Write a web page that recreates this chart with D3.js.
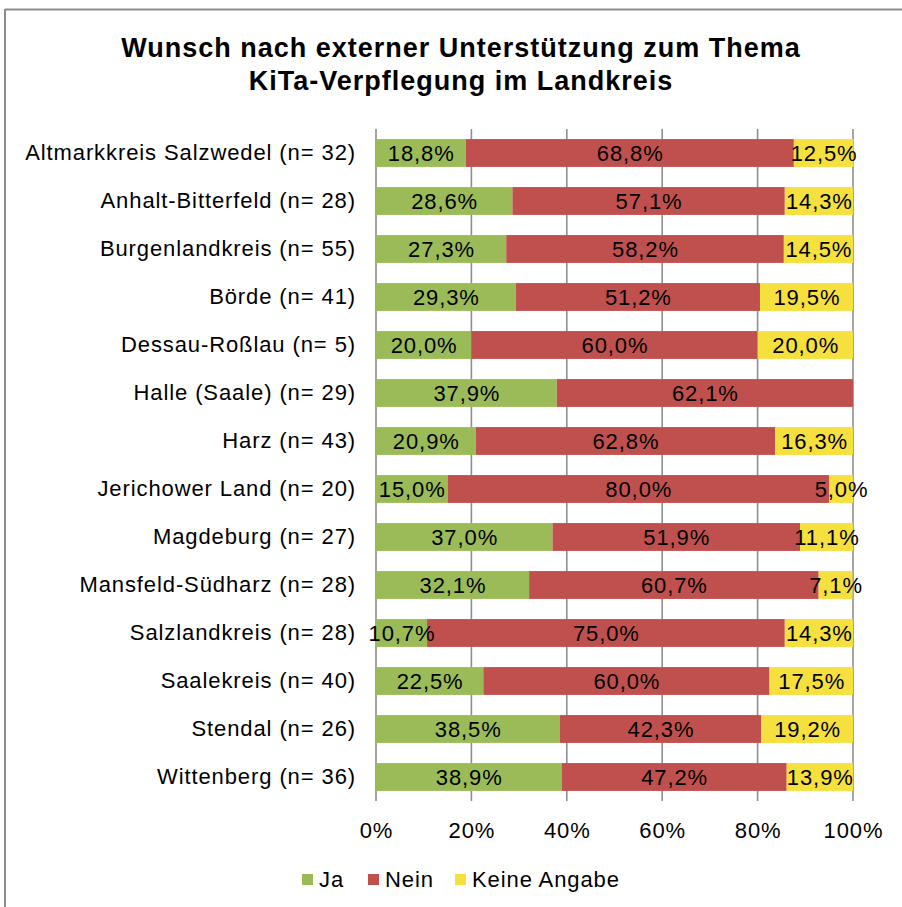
<!DOCTYPE html>
<html>
<head>
<meta charset="utf-8">
<script src="https://cdn.jsdelivr.net/npm/d3@7"></script>
<style>
  html, body { margin: 0; padding: 0; background: #fff; }
  svg { display: block; font-family: "Liberation Sans", Arial, sans-serif; }
</style>
</head>
<body>
<svg id="chart" width="902" height="907"></svg>
<script>
// Districts (top to bottom) and their answer shares in percent
const categories = [
  "Altmarkkreis Salzwedel (n= 32)",
  "Anhalt-Bitterfeld (n= 28)",
  "Burgenlandkreis (n= 55)",
  "Börde (n= 41)",
  "Dessau-Roßlau (n= 5)",
  "Halle (Saale) (n= 29)",
  "Harz (n= 43)",
  "Jerichower Land (n= 20)",
  "Magdeburg (n= 27)",
  "Mansfeld-Südharz (n= 28)",
  "Salzlandkreis (n= 28)",
  "Saalekreis (n= 40)",
  "Stendal (n= 26)",
  "Wittenberg (n= 36)"
];
const ja           = [18.8, 28.6, 27.3, 29.3, 20.0, 37.9, 20.9, 15.0, 37.0, 32.1, 10.7, 22.5, 38.5, 38.9];
const nein         = [68.8, 57.1, 58.2, 51.2, 60.0, 62.1, 62.8, 80.0, 51.9, 60.7, 75.0, 60.0, 42.3, 47.2];
const keineAngabe  = [12.5, 14.3, 14.5, 19.5, 20.0,  0.0, 16.3,  5.0, 11.1,  7.1, 14.3, 17.5, 19.2, 13.9];
const seriesNames  = ["Ja", "Nein", "Keine Angabe"];
const seriesColors = ["#9BBB59", "#C0504D", "#F6E03E"];
const xTicks       = [0, 20, 40, 60, 80, 100];
const titleLines   = ["Wunsch nach externer Unterstützung zum Thema", "KiTa-Verpflegung im Landkreis"];

const svg = d3.select("#chart");
const W = 902, H = 907;
const FS = 22, LS = 0.9;   // body text size and tracking

// outer frame (top and left edges)
svg.append("line").attr("x1", 5).attr("x2", W).attr("y1", 9.5).attr("y2", 9.5)
  .attr("stroke", "#8c8c8c").attr("stroke-width", 2);
svg.append("line").attr("x1", 5).attr("x2", 5).attr("y1", 9).attr("y2", H)
  .attr("stroke", "#8c8c8c").attr("stroke-width", 2);

// title
svg.append("g").selectAll("text").data(titleLines).join("text")
  .attr("x", 461).attr("y", (d, i) => 57 + i * 33)
  .attr("text-anchor", "middle")
  .attr("font-size", 27).attr("font-weight", "bold")
  .attr("letter-spacing", 1.0)
  .attr("fill", "#000")
  .text(d => d);

const plot = { left: 376, right: 853, top: 129, bottom: 801 };

const x = d3.scaleLinear().domain([0, 100]).range([plot.left, plot.right]);
const y = d3.scaleBand().domain(categories).range([plot.top, plot.bottom]).paddingInner(0.42).paddingOuter(0.21);

// vertical gridlines
svg.append("g").selectAll("line").data(xTicks).join("line")
  .attr("x1", d => x(d)).attr("x2", d => x(d))
  .attr("y1", plot.top).attr("y2", plot.bottom)
  .attr("stroke", "#8f8f8f").attr("stroke-width", 1.6);

const styleText = sel => sel
  .attr("font-size", FS).attr("letter-spacing", LS)
  .attr("font-family", "Liberation Sans, Arial, sans-serif").attr("fill", "#000");

// x axis labels
const xAxis = d3.axisBottom(x).tickValues(xTicks).tickSize(0).tickPadding(0).tickFormat(d => d + "%");
const gx = svg.append("g").attr("transform", `translate(0,${plot.bottom + 21})`).call(xAxis);
gx.select(".domain").remove();
gx.selectAll("text").call(styleText);

// category labels
const yAxis = d3.axisLeft(y).tickSize(0).tickPadding(0);
const gy = svg.append("g").attr("transform", `translate(356,0)`).call(yAxis);
gy.select(".domain").remove();
gy.selectAll("text").call(styleText);

// stacked bars
const rows = categories.map((c, i) => ({ cat: c, Ja: ja[i], Nein: nein[i], "Keine Angabe": keineAngabe[i] }));
const stack = d3.stack().keys(seriesNames)(rows);

const layers = svg.append("g").selectAll("g").data(stack).join("g")
  .attr("fill", (d, i) => seriesColors[i]);
layers.selectAll("rect").data(d => d).join("rect")
  .attr("x", d => x(d[0]))
  .attr("y", d => y(d.data.cat))
  .attr("width", d => x(d[1]) - x(d[0]))
  .attr("height", y.bandwidth());

// value labels, centred in each segment
const fmt = v => v.toFixed(1).replace(".", ",") + "%";
svg.append("g").selectAll("g").data(stack).join("g")
  .selectAll("text").data(d => d.filter(s => s[1] - s[0] > 0)).join("text")
  .attr("x", d => (x(d[0]) + x(d[1])) / 2 + LS / 2)
  .attr("y", d => y(d.data.cat) + y.bandwidth() / 2)
  .attr("dy", "0.35em")
  .attr("text-anchor", "middle")
  .call(styleText)
  .text(d => fmt(d[1] - d[0]));

// legend
const legendX = [302, 368, 455];
const lg = svg.append("g").selectAll("g").data(seriesNames).join("g")
  .attr("transform", (d, i) => `translate(${legendX[i]},874)`);
lg.append("rect").attr("width", 11).attr("height", 11).attr("fill", (d, i) => seriesColors[i]);
lg.append("text").attr("x", 17).attr("y", 13).call(styleText).text(d => d);
</script>
</body>
</html>
